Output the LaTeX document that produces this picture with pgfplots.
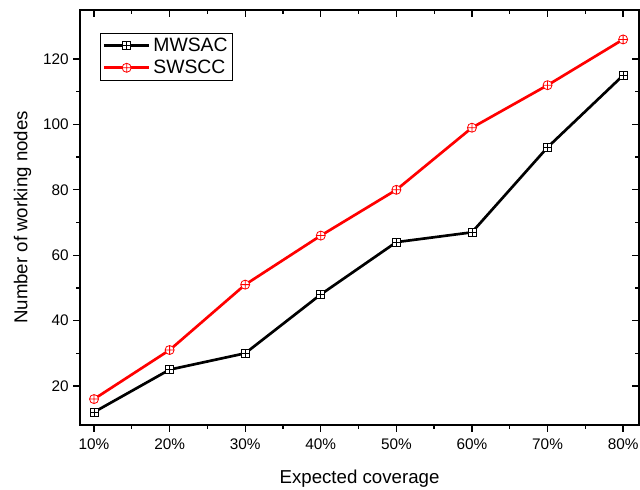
\documentclass[border=0pt]{standalone}
\usepackage{fontspec}
\setmainfont{Liberation Sans}
\usepackage{pgfplots}
\pgfplotsset{compat=1.18}
\usetikzlibrary{plotmarks}

% square with a plus inside, like Origin's marker
\pgfdeclareplotmark{boxplus}{%
  \pgfpathrectangle{\pgfpoint{-\pgfplotmarksize}{-\pgfplotmarksize}}{\pgfpoint{2\pgfplotmarksize}{2\pgfplotmarksize}}%
  \pgfusepathqfillstroke
  \pgfpathmoveto{\pgfpoint{-\pgfplotmarksize}{0pt}}\pgfpathlineto{\pgfpoint{\pgfplotmarksize}{0pt}}%
  \pgfpathmoveto{\pgfpoint{0pt}{-\pgfplotmarksize}}\pgfpathlineto{\pgfpoint{0pt}{\pgfplotmarksize}}%
  \pgfusepathqstroke}

\pgfplotsset{
  common/.style={
    scale only axis, width=419pt, height=311pt,
    xmin=8.15, xmax=82.1, ymin=8.1, ymax=135,
    xtick={10,20,30,40,50,60,70,80},
    ytick={20,40,60,80,100,120},
    minor x tick num=1, minor y tick num=1,
    major tick length=5pt, minor tick length=3pt,
    axis line style={line width=1pt},
    every tick/.style={black, line width=1pt},
  }
}

\begin{document}
\begin{tikzpicture}
\begin{axis}[common, name=main,
    tick align=outside, xtick pos=left, ytick pos=left,
    xticklabels={10\%,20\%,30\%,40\%,50\%,60\%,70\%,80\%},
    /pgf/number format/assume math mode=true,
    tick label style={font=\fontsize{11.5}{13}\selectfont},
    xticklabel style={yshift=-2pt},
    label style={font=\fontsize{14}{16}\selectfont},
    xlabel style={yshift=-8pt},
    ylabel style={yshift=2pt},
    xlabel={Expected coverage},
    ylabel={Number of working nodes},
    legend style={at={(0,1)}, xshift=15pt, yshift=-17pt, anchor=north west,
        draw=black, line width=0.75pt, font=\fontsize{14.5}{17}\selectfont,
        inner sep=1.5pt, row sep=1pt},
    legend cell align=left,
    legend image code/.code={\draw[mark repeat=2, mark phase=2] plot coordinates {(0cm,0cm) (0.6cm,0cm) (1.2cm,0cm)};},
]
\addplot[black, line width=2pt, mark=boxplus, mark size=3pt,
    mark options={line width=0.6pt, fill=white, solid}]
  coordinates {(10,12) (20,25) (30,30) (40,48) (50,64) (60,67) (70,93) (80,115)};
\addlegendentry{MWSAC}
\addplot[red, line width=2pt, mark=oplus*, mark size=3.4pt,
    mark options={line width=0.6pt, fill=white, draw=red, solid}]
  coordinates {(10,16) (20,31) (30,51) (40,66) (50,80) (60,99) (70,112) (80,126)};
\addlegendentry{SWSCC}
\end{axis}
\begin{axis}[common,
    tick align=inside, xtick pos=right, ytick pos=right,
    xticklabels={}, yticklabels={}]
\end{axis}
\pgfresetboundingbox
\path ([shift={(-60pt,-48.75pt)}]main.south west) rectangle ([shift={(0.75pt,7.5pt)}]main.north east);
\end{tikzpicture}
\end{document}
